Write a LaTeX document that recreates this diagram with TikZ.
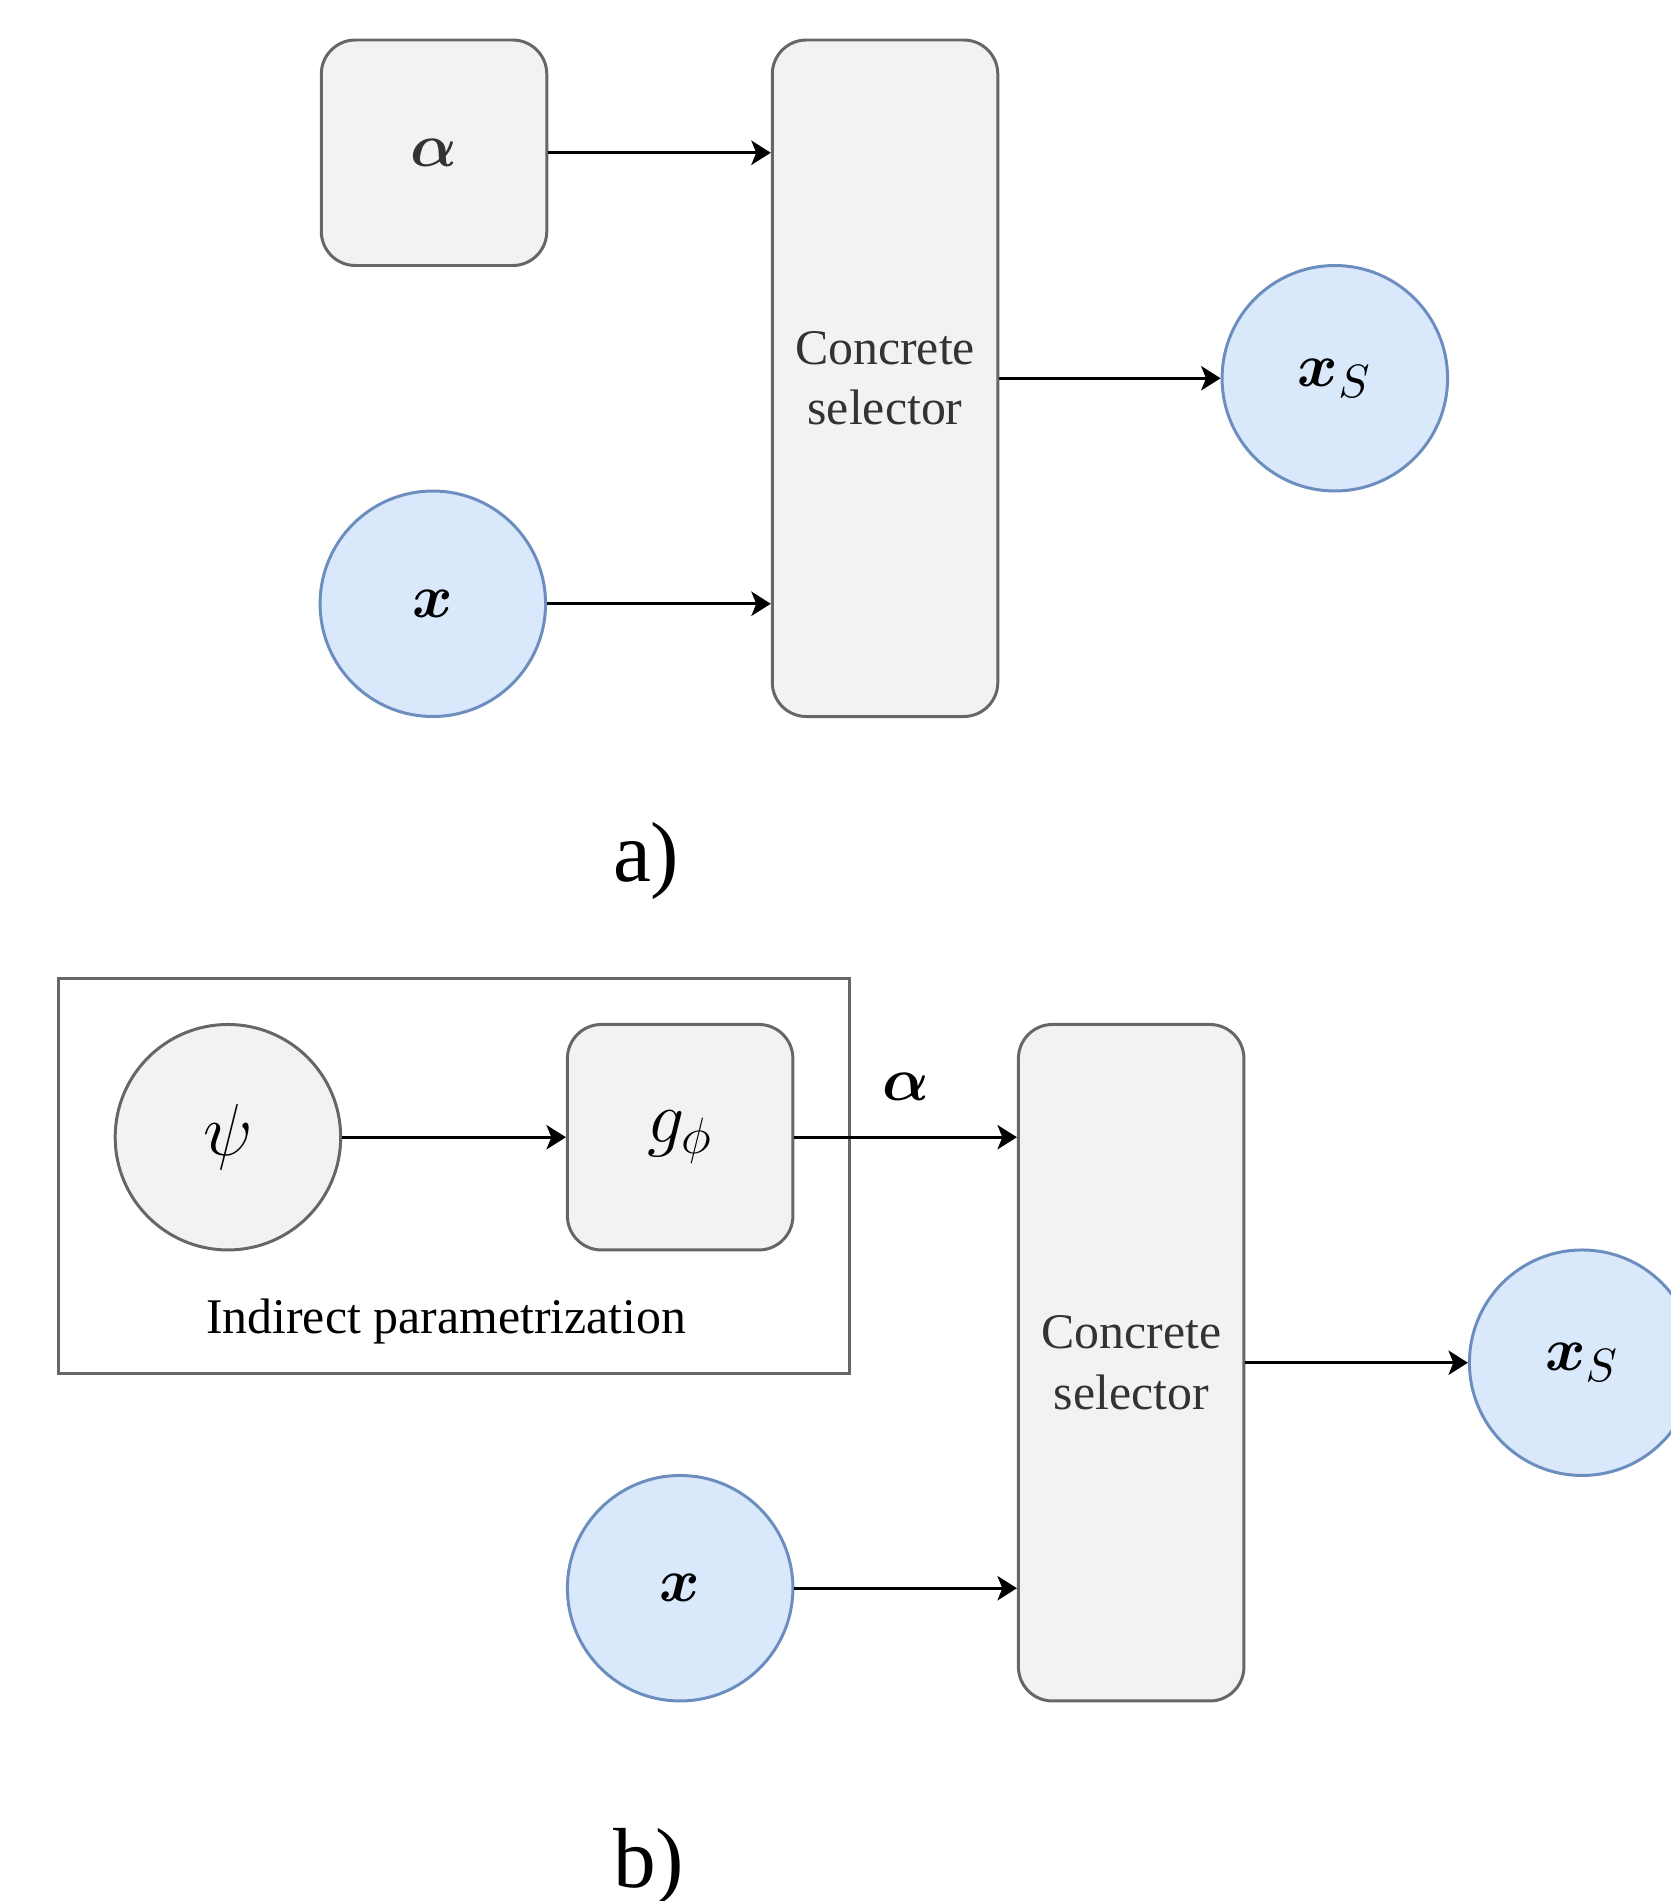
\documentclass[tikz,border=0pt]{standalone}
\usepackage{amsmath,amssymb,bm}
\usepackage{fontspec}
\setmainfont{Liberation Serif}
\usetikzlibrary{arrows.meta}

\definecolor{boxfill}{HTML}{F2F2F2}
\definecolor{boxline}{HTML}{666666}
\definecolor{boxtext}{HTML}{333333}
\definecolor{varfill}{HTML}{DAE8FC}
\definecolor{varline}{HTML}{6C8EBF}

\begin{document}
\begin{tikzpicture}[
  block/.style={rectangle, rounded corners=8pt, draw=boxline, fill=boxfill, line width=0.7pt,
    minimum width=1.86cm, minimum height=1.86cm, inner sep=0pt, text=boxtext,
    font=\fontsize{15}{18}\selectfont},
  selector/.style={block, minimum height=5.58cm, align=center,
    font=\fontsize{11.7}{14.2}\selectfont},
  var/.style={circle, draw=varline, fill=varfill, line width=0.7pt, minimum size=1.86cm,
    inner sep=0pt, font=\fontsize{15}{18}\selectfont},
  hidden/.style={var, draw=boxline, fill=boxfill, font=\fontsize{17.5}{21}\selectfont},
  link/.style={-{Stealth[length=0.16cm, width=0.2cm, inset=0.04cm]}, line width=0.7pt},
  caption/.style={font=\fontsize{20}{24}\selectfont}
]
  \useasboundingbox (0,0) rectangle (13.78,-15.68);

  \node[block] (alphaA) at (3.58,-1.26) {$\bm{\alpha}$};
  \node[selector] (selA) at (7.30,-3.12) {Concrete\\selector};
  \node[var] (xA) at (3.57,-4.98) {$\bm{x}$};
  \node[var] (xsA) at (11.01,-3.12) {$\bm{x}_S$};
  \node[caption] (labA) at (5.33,-7.10) {a)};

  \draw[link] (alphaA.east) -- (alphaA.east -| selA.west);
  \draw[link] (xA.east) -- (xA.east -| selA.west);
  \draw[link] (selA.east) -- (xsA.west);

  \node[draw=boxline, line width=0.7pt, minimum width=6.53cm, minimum height=3.26cm,
    inner sep=0pt] (frame) at (3.745,-9.70) {};
  \node[hidden] (psi) at (1.88,-9.38) {$\psi$};
  \node[block, text=black, font=\fontsize{17.5}{21}\selectfont] (gphi) at (5.61,-9.38) {$g_\phi$};
  \node[font=\fontsize{11.7}{14.2}\selectfont] (indirect) at (3.68,-10.90) {Indirect parametrization};
  \node[selector] (selB) at (9.33,-11.24) {Concrete\\selector};
  \node[var] (xB) at (5.61,-13.10) {$\bm{x}$};
  \node[var] (xsB) at (13.05,-11.24) {$\bm{x}_S$};
  \node[caption] (labB) at (5.35,-15.40) {b)};

  \draw[link] (psi.east) -- (gphi.west);
  \draw[link] (gphi.east) -- node[above=0.17cm, font=\fontsize{15}{18}\selectfont] {$\bm{\alpha}$} (gphi.east -| selB.west);
  \draw[link] (xB.east) -- (xB.east -| selB.west);
  \draw[link] (selB.east) -- (xsB.west);
\end{tikzpicture}
\end{document}
